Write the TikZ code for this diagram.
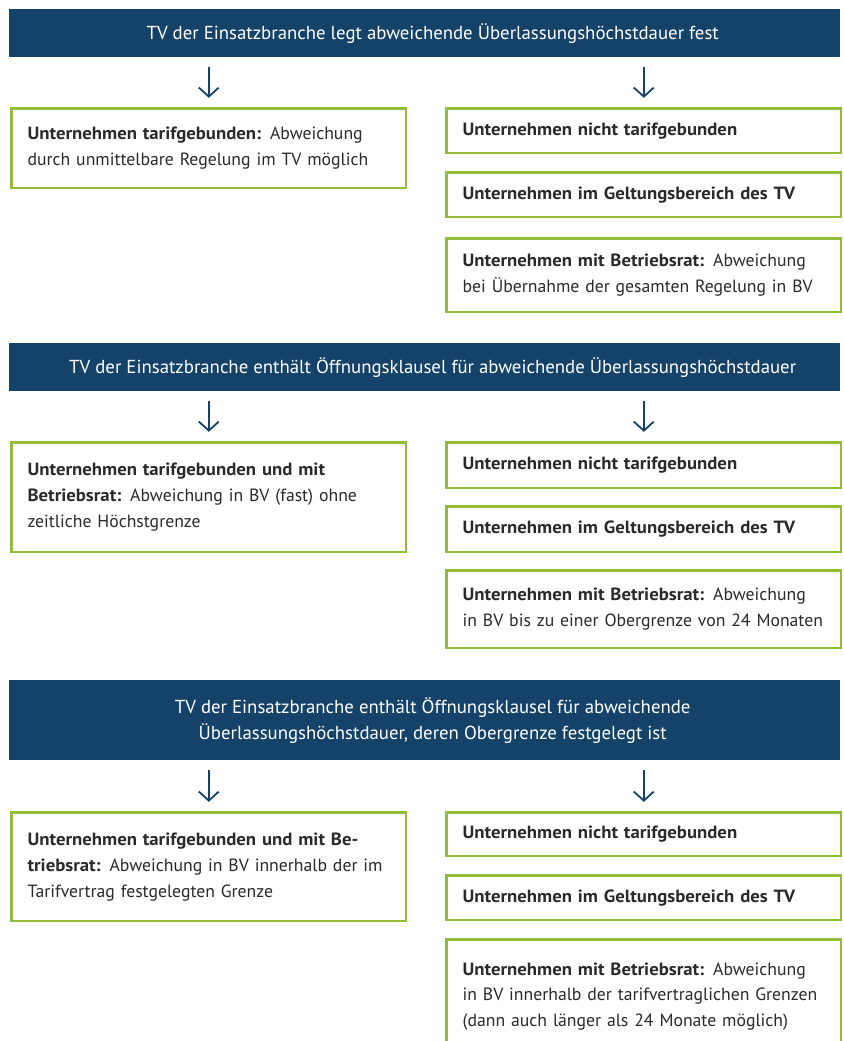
\documentclass[tikz,border=0pt]{standalone}
\usepackage{fontspec}
\setmainfont{PT Sans}[BoldFeatures={FakeStretch=1.06}]
\usetikzlibrary{arrows.meta}
\definecolor{hblue}{HTML}{154268}
\definecolor{bgreen}{HTML}{93BC3B}
\definecolor{txt}{HTML}{2A2A2A}
\tikzset{
  hdr/.style={fill=hblue, text=white, anchor=north west, minimum width=831pt, inner sep=0pt, align=center,
    font=\fontsize{18.8}{26}\selectfont},
  box/.style={draw=bgreen, line width=2.6pt, fill=white, anchor=north west, minimum width=394.4pt,
    inner xsep=16pt, inner ysep=0pt, text width=362.4pt, align=left, text=txt,
    font=\fontsize{17.7}{25.8}\selectfont},
  arr/.style={draw=hblue, line width=1.8pt, -{Straight Barb[length=9pt,width=20pt]}, shorten <=9.5pt, shorten >=9.5pt}
}
\begin{document}
\begin{tikzpicture}[x=1pt,y=-1pt]
\useasboundingbox (0,0) rectangle (843,1041);
\clip (0,0) rectangle (843,1041);
% block 1
\node[hdr, minimum height=48pt] (h1) at (9,9) {\hspace*{16pt}TV der Einsatzbranche legt abweichende Überlassungshöchstdauer fest};
\node[box, minimum height=79.4pt] (l1) at (10.3,107.3) {\textbf{Unternehmen tarifgebunden:} Abweichung\\durch unmittelbare Regelung im TV möglich};
\node[box, minimum height=44.4pt] (r1a) at (445.3,107.3) {\textbf{Unternehmen nicht tarifgebunden}};
\node[box, minimum height=44.4pt] (r1b) at (445.3,171.3) {\textbf{Unternehmen im Geltungsbereich des TV}};
\node[box, minimum height=73.4pt] (r1c) at (445.3,237.3) {\textbf{Unternehmen mit Betriebsrat:} Abweichung\\bei Übernahme der gesamten Regelung in BV};
\draw[arr] (l1.north |- h1.south) -- (l1.north);
\draw[arr] (r1a.north |- h1.south) -- (r1a.north);
% block 2
\node[hdr, minimum height=48pt] (h2) at (9,343) {\hspace*{16pt}TV der Einsatzbranche enthält Öffnungsklausel für abweichende Überlassungshöchstdauer};
\node[box, minimum height=109.4pt] (l2) at (10.3,441.3) {\textbf{Unternehmen tarifgebunden und mit}\\\textbf{Betriebsrat:} Abweichung in BV (fast) ohne\\zeitliche Höchstgrenze};
\node[box, minimum height=45.4pt] (r2a) at (445.3,441.3) {\textbf{Unternehmen nicht tarifgebunden}};
\node[box, minimum height=45.4pt] (r2b) at (445.3,505.3) {\textbf{Unternehmen im Geltungsbereich des TV}};
\node[box, minimum height=77.4pt] (r2c) at (445.3,569.3) {\textbf{Unternehmen mit Betriebsrat:} Abweichung\\in BV bis zu einer Obergrenze von 24 Monaten};
\draw[arr] (l2.north |- h2.south) -- (l2.north);
\draw[arr] (r2a.north |- h2.south) -- (r2a.north);
% block 3
\node[hdr, minimum height=80pt] (h3) at (9,680) {\hspace*{16pt}TV der Einsatzbranche enthält Öffnungsklausel für abweichende\\\hspace*{16pt}Überlassungshöchstdauer, deren Obergrenze festgelegt ist};
\node[box, minimum height=108.4pt] (l3) at (10.3,811.3) {\textbf{Unternehmen tarifgebunden und mit Be-}\\\textbf{triebsrat:} Abweichung in BV innerhalb der im\\Tarifvertrag festgelegten Grenze};
\node[box, minimum height=43.4pt] (r3a) at (445.3,811.3) {\textbf{Unternehmen nicht tarifgebunden}};
\node[box, minimum height=44.4pt] (r3b) at (445.3,874.3) {\textbf{Unternehmen im Geltungsbereich des TV}};
\node[box, minimum height=114pt] (r3c) at (445.3,938.3) {\textbf{Unternehmen mit Betriebsrat:} Abweichung\\in BV innerhalb der tarifvertraglichen Grenzen\\(dann auch länger als 24 Monate möglich)};
\draw[arr] (l3.north |- h3.south) -- (l3.north);
\draw[arr] (r3a.north |- h3.south) -- (r3a.north);
\end{tikzpicture}
\end{document}
